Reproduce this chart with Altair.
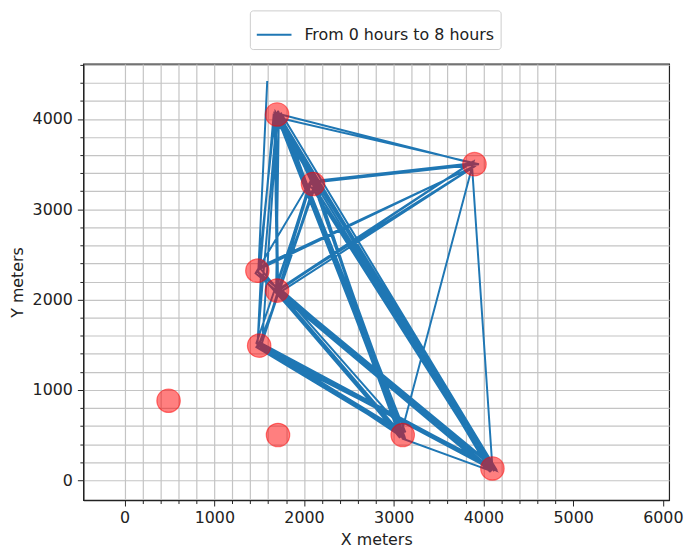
import altair as alt
import pandas as pd

# Locations (red circles)
loc_x = [1700, 3900, 2100, 1480, 1700, 1500, 490, 1710, 3100, 4100]
loc_y = [4050, 3500, 3280, 2320, 2100, 1490, 880, 500, 500, 130]

# Trajectory from 0 hours to 8 hours (visit order)
path_x = [1590, 1490, 1680, 4080, 2080, 1520, 4120, 1720, 3080, 1690,
          2070, 3880, 1700, 1480, 3120, 2110, 1720, 4100, 1660, 1510,
          3920, 1680, 3060, 1740, 4130, 1470, 2090, 3100, 4090, 1710,
          1690, 3950, 2060, 1460, 4070, 1530, 1710, 3130, 1730, 2120,
          1700, 3890, 3090, 1490, 4140, 1670, 1700, 3910, 1500, 3070,
          2130, 1510, 3110, 1730, 4080, 1670, 4120, 1520, 1480, 1740,
          3870, 4100, 2100, 1720, 1690, 4090, 1700, 3090, 1680, 4110,
          2080, 4090, 1710, 3120, 1500, 4130, 1720, 3060, 2110, 3100,
          1680, 4100, 1460, 3080, 1470, 4070, 1700, 4120]
path_y = [4420, 2300, 4080, 150, 3300, 1480, 120, 4040, 520, 2120,
          3310, 3510, 4060, 1500, 480, 3260, 2080, 110, 4030, 2340,
          3490, 2090, 500, 4070, 140, 1520, 3320, 460, 100, 2140,
          4020, 3500, 3290, 2290, 130, 1470, 4090, 530, 2110, 3240,
          2090, 3530, 540, 1510, 110, 4050, 2060, 3480, 2360, 470,
          3300, 1460, 510, 4010, 90, 2100, 150, 2280, 1460, 2130,
          3520, 140, 3270, 4060, 2150, 120, 4040, 490, 4070, 160,
          3250, 110, 2070, 460, 1530, 130, 4030, 530, 3310, 480,
          2120, 150, 1480, 510, 2320, 140, 4080, 100]

series_name = "From 0 hours to 8 hours"

x_minor = list(range(0, 4801, 200))
x_ticks = x_minor + [5000, 6000]
y_ticks = list(range(0, 4601, 200))

path_df = pd.DataFrame({"x": path_x, "y": path_y,
                        "step": list(range(len(path_x))),
                        "series": [series_name] * len(path_x)})
loc_df = pd.DataFrame({"x": loc_x, "y": loc_y})

font = "DejaVu Sans"

x_axis = alt.Axis(
    title="X meters", values=x_ticks, format="d", tickCount=500,
    labelExpr="datum.value % 1000 === 0 ? datum.label : ''",
    labelOverlap=False, labelFlush=False,
    tickSize={"condition": {"test": "datum.value % 1000 === 0", "value": 6}, "value": 3.5},
    gridOpacity={"condition": {"test": "datum.value > 4800", "value": 0}, "value": 1},
    labelPadding=4, titlePadding=6,
)
y_axis = alt.Axis(
    title="Y meters", values=y_ticks, format="d", tickCount=500,
    labelExpr="datum.value % 1000 === 0 ? datum.label : ''",
    labelOverlap=False, labelFlush=False,
    tickSize={"condition": {"test": "datum.value % 1000 === 0", "value": 6}, "value": 3.5},
    labelPadding=5, titlePadding=7,
)

x_enc = alt.X("x:Q", scale=alt.Scale(domain=[-460, 6070], nice=False, zero=False), axis=x_axis)
y_enc = alt.Y("y:Q", scale=alt.Scale(domain=[-220, 4610], nice=False, zero=False), axis=y_axis)

lines = alt.Chart(path_df).mark_line(strokeWidth=2, clip=True).encode(
    x=x_enc, y=y_enc,
    order=alt.Order("step:Q"),
    color=alt.Color("series:N", scale=alt.Scale(range=["#1f77b4"]),
                    legend=alt.Legend(title=None, orient="none", legendX=168, legendY=-54,
                                      symbolType="stroke", symbolSize=1225,
                                      symbolStrokeWidth=2, labelFontSize=16, labelFont=font,
                                      labelOffset=12, labelLimit=0, padding=6,
                                      strokeColor="#cccccc",
                                      cornerRadius=3, fillColor="white",
                                      labelColor="#222222")),
)

circles = alt.Chart(loc_df).mark_circle(
    size=560, fill="red", fillOpacity=0.5, stroke="red", strokeOpacity=0.5, strokeWidth=1.2,
    opacity=1,
).encode(x="x:Q", y="y:Q")

chart = alt.layer(lines, circles).properties(
    width=591, height=440,
    autosize=alt.AutoSizeParams(type="none"),
    padding={"left": 76, "top": 54, "right": 17, "bottom": 50},
).configure_view(
    stroke="#222222", strokeWidth=1.2
).configure_axis(
    labelFont=font, titleFont=font, labelFontSize=16, titleFontSize=16,
    titleFontWeight="normal", labelColor="#222222", titleColor="#222222",
    domainColor="#222222", tickColor="#222222", domainWidth=1.2, tickWidth=1,
    gridColor="#c4c4c4", gridWidth=1.2,
)

chart.save("out.html", embed_options={"renderer": "svg", "actions": False})
